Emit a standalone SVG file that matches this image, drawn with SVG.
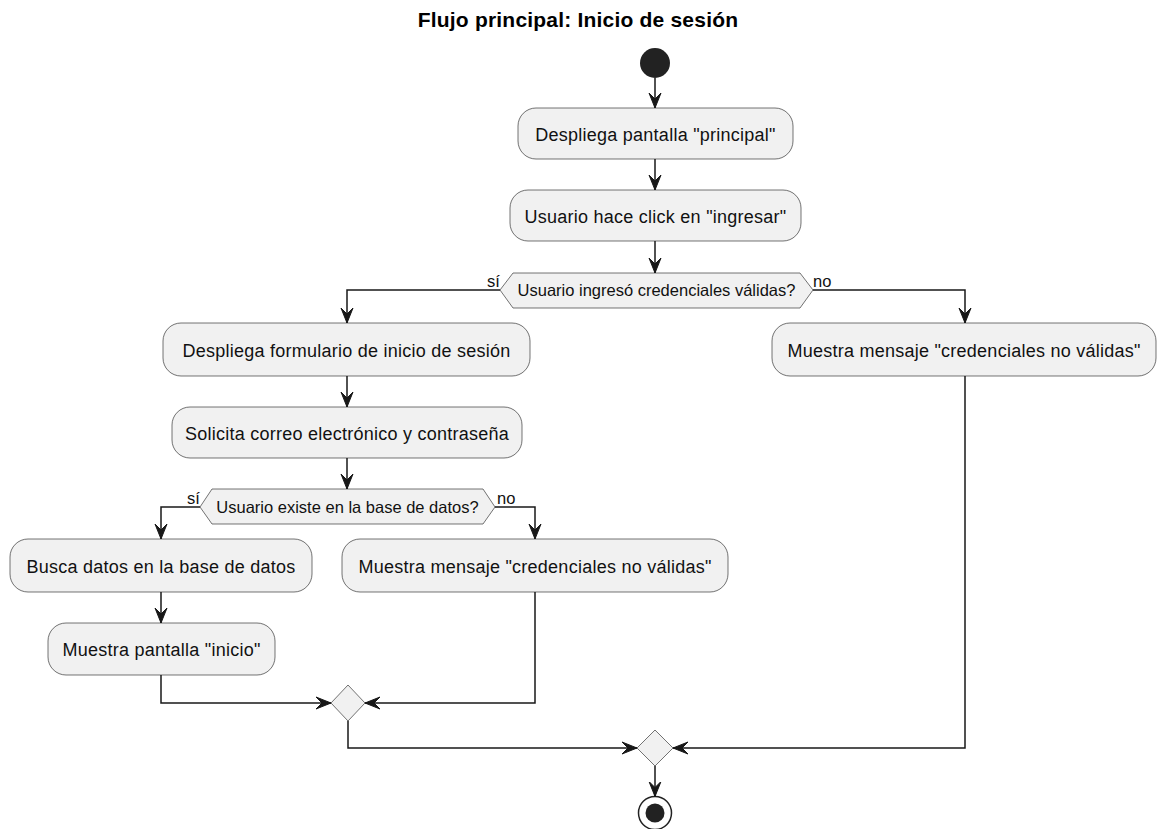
<svg xmlns="http://www.w3.org/2000/svg" width="1157" height="829" viewBox="0 0 1157 829">
  <style>
    .act rect { fill: #F1F1F1; stroke: #181818; stroke-width: 0.6; }
    .act text { font-family: "Liberation Sans", Arial, sans-serif; font-size: 18px; letter-spacing: 0.25px; fill: #111; text-anchor: middle; }
    .dec polygon { fill: #F1F1F1; stroke: #181818; stroke-width: 0.6; }
    .dec text { font-family: "Liberation Sans", Arial, sans-serif; font-size: 16.5px; fill: #111; text-anchor: middle; }
    .lbl { font-family: "Liberation Sans", Arial, sans-serif; font-size: 16.5px; fill: #111; }
    .edges path { fill: none; stroke: #181818; stroke-width: 1.5; }
    .title { font-family: "Liberation Sans", Arial, sans-serif; font-size: 21px; font-weight: bold; letter-spacing: 0.2px; fill: #000; text-anchor: middle; }
  </style>
  <defs>
    <marker id="arr" viewBox="0 0 16 14" refX="15" refY="7" markerWidth="16" markerHeight="14" markerUnits="userSpaceOnUse" orient="auto">
      <path d="M0,1 L15,7 L0,13 L6,7 Z" fill="#181818" stroke="#181818" stroke-width="1"/>
    </marker>
  </defs>
  <rect width="1157" height="829" fill="#FFFFFF"/>

  <text class="title" x="578" y="27">Flujo principal: Inicio de sesión</text>

  <!-- start / end -->
  <g id="start"><circle cx="655" cy="63" r="15" fill="#222222"/></g>
  <g id="end">
    <circle cx="655" cy="813" r="16.5" fill="#FFFFFF" stroke="#222222" stroke-width="1.5"/>
    <circle cx="655" cy="813" r="9.5" fill="#222222"/>
  </g>

  <!-- actions -->
  <g id="a1" class="act"><rect x="518" y="108" width="275" height="51" rx="18" ry="18"/><text x="655.5" y="140.5">Despliega pantalla "principal"</text></g>
  <g id="a2" class="act"><rect x="510" y="190" width="291" height="51" rx="18" ry="18"/><text x="655.5" y="222.5">Usuario hace click en "ingresar"</text></g>
  <g id="a3" class="act"><rect x="163" y="323" width="367" height="53" rx="18" ry="18"/><text x="346.5" y="356.5">Despliega formulario de inicio de sesión</text></g>
  <g id="a4" class="act"><rect x="172" y="407" width="350" height="51" rx="18" ry="18"/><text x="347" y="439.5">Solicita correo electrónico y contraseña</text></g>
  <g id="a5" class="act"><rect x="772" y="323" width="384" height="53" rx="18" ry="18"/><text x="964" y="356.5">Muestra mensaje "credenciales no válidas"</text></g>
  <g id="a6" class="act"><rect x="10" y="539" width="302" height="53" rx="18" ry="18"/><text x="161" y="572.5">Busca datos en la base de datos</text></g>
  <g id="a7" class="act"><rect x="342" y="539" width="386" height="53" rx="18" ry="18"/><text x="535" y="572.5">Muestra mensaje "credenciales no válidas"</text></g>
  <g id="a8" class="act"><rect x="48" y="623" width="227" height="52" rx="18" ry="18"/><text x="161.5" y="655.5">Muestra pantalla "inicio"</text></g>

  <!-- decisions -->
  <g id="d1" class="dec">
    <polygon points="500,290 513,273 800,273 813,290 800,308 513,308"/>
    <text x="656.5" y="296">Usuario ingresó credenciales válidas?</text>
  </g>
  <g id="d2" class="dec">
    <polygon points="200,507 212,489 483,489 495,507 483,524 212,524"/>
    <text x="347.5" y="513">Usuario existe en la base de datos?</text>
  </g>
  <g id="m1" class="dec"><polygon points="348,685 365,703 348,721 331,703"/></g>
  <g id="m2" class="dec"><polygon points="655,730 673,748 655,766 637,748"/></g>

  <text class="lbl" x="487" y="287">sí</text>
  <text class="lbl" x="813" y="287">no</text>
  <text class="lbl" x="187" y="504">sí</text>
  <text class="lbl" x="497" y="504">no</text>

  <!-- connectors -->
  <g class="edges">
    <path d="M655,78 L655,108" marker-end="url(#arr)"/>
    <path d="M655,159 L655,190" marker-end="url(#arr)"/>
    <path d="M655,241 L655,273" marker-end="url(#arr)"/>
    <path d="M500,290 L347,290 L347,323" marker-end="url(#arr)"/>
    <path d="M813,290 L965,290 L965,323" marker-end="url(#arr)"/>
    <path d="M347,376 L347,407" marker-end="url(#arr)"/>
    <path d="M347,458 L347,489" marker-end="url(#arr)"/>
    <path d="M200,507 L161,507 L161,539" marker-end="url(#arr)"/>
    <path d="M495,507 L535,507 L535,539" marker-end="url(#arr)"/>
    <path d="M161,592 L161,623" marker-end="url(#arr)"/>
    <path d="M161,675 L161,703 L331,703" marker-end="url(#arr)"/>
    <path d="M535,592 L535,703 L365,703" marker-end="url(#arr)"/>
    <path d="M348,721 L348,748 L637,748" marker-end="url(#arr)"/>
    <path d="M965,376 L965,748 L673,748" marker-end="url(#arr)"/>
    <path d="M655,766 L655,796.5" marker-end="url(#arr)"/>
  </g>
</svg>
